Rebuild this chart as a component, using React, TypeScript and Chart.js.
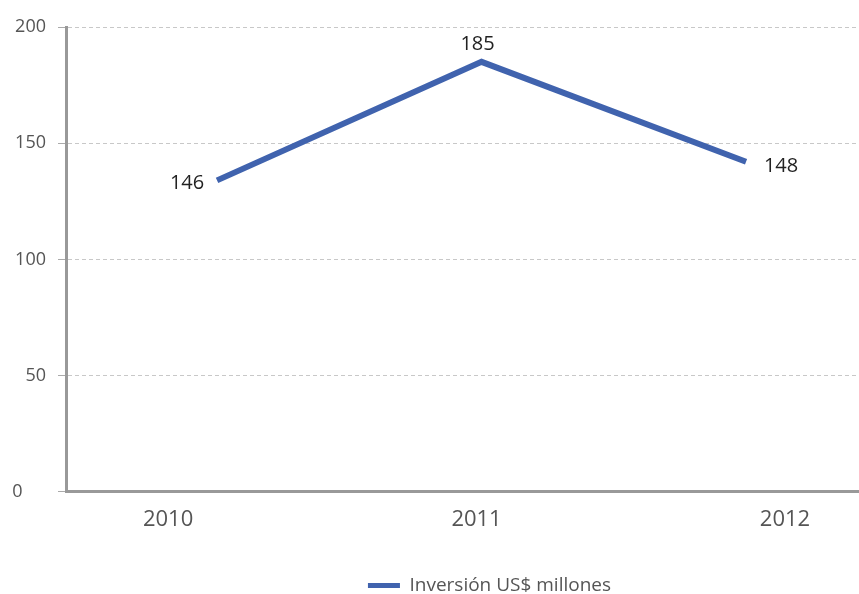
import React, { useEffect, useRef } from 'react';
import { Chart, registerables } from 'chart.js';

Chart.register(...registerables);

// ---- data ----
const categories = ['2010', '2011', '2012'];
const tickYears = [2010, 2011, 2012];
const plottedValues = [134, 185, 142]; // where the line is drawn in the reference
const valueLabels = ['146', '185', '148']; // printed value labels
const yTicks = [0, 50, 100, 150, 200];
const seriesName = 'Inversión US$ millones';

const FONT = '"Open Sans", "Noto Sans", sans-serif';
const BLUE = '#4063AE';

export default function App() {
  const ref = useRef<HTMLCanvasElement>(null);

  useEffect(() => {
    document.body.style.margin = '0';
    const canvas = ref.current;
    if (!canvas) return;

    const labelOffsets = [
      { dx: -30, dy: 3 },
      { dx: -4, dy: -18 },
      { dx: 35, dy: 5 },
    ];

    const valueLabelPlugin = {
      id: 'valueLabels',
      afterDatasetsDraw(chart: any) {
        const meta = chart.getDatasetMeta(0);
        const ctx = chart.ctx;
        ctx.save();
        ctx.font = `20px ${FONT}`;
        ctx.fillStyle = '#222';
        ctx.textAlign = 'center';
        ctx.textBaseline = 'middle';
        meta.data.forEach((pt: any, i: number) => {
          const o = labelOffsets[i];
          ctx.fillText(valueLabels[i], pt.x + o.dx, pt.y + o.dy);
        });
        ctx.restore();
      },
    };

    const legendShift = {
      id: 'legendShift',
      afterLayout(chart: any) {
        const lg = chart.legend;
        if (lg) {
          lg.left += 60;
          lg.right += 60;
          lg.top += 11;
          lg.bottom += 11;
        }
      },
    };

    const chart = new Chart(canvas, {
      type: 'line',
      data: {
        labels: categories,
        datasets: [
          {
            label: seriesName,
            data: plottedValues.map((v, i) => ({ x: i, y: v })),
            xAxisID: 'x2',
            borderColor: BLUE,
            backgroundColor: BLUE,
            borderWidth: 6,
            pointRadius: 0,
            tension: 0,
            borderCapStyle: 'butt',
            borderJoinStyle: 'miter',
          },
        ],
      },
      options: {
        responsive: false,
        animation: false,
        layout: { padding: { top: 27, left: 0, right: 0, bottom: 0 } },
        scales: {
          x: {
            type: 'linear',
            position: 'bottom',
            min: 2009.669,
            max: 2012.24,
            afterBuildTicks: (s: any) => {
              s.ticks = tickYears.map((v) => ({ value: v }));
            },
            ticks: {
              callback: (v: any) => String(v),
              font: { size: 22, family: FONT },
              color: '#555',
              padding: 15,
              autoSkip: false,
              maxRotation: 0,
            },
            grid: { display: false, drawTicks: false },
            border: { display: true, color: '#999', width: 3 },
            afterFit: (s: any) => {
              s.height = 73.2;
            },
          },
          x2: {
            type: 'linear',
            display: false,
            min: -0.571,
            max: 2.427,
          },
          y: {
            type: 'linear',
            position: 'left',
            min: 0,
            max: 200,
            afterBuildTicks: (s: any) => {
              s.ticks = yTicks.map((v) => ({ value: v }));
            },
            ticks: {
              font: { size: 18, family: FONT },
              color: '#555',
              padding: 12,
              callback: (v: any) => (v === 0 ? '0     ' : String(v)),
            },
            grid: {
              color: '#c8c8c8',
              lineWidth: 1,
              tickLength: 8,
              tickColor: '#aaa',
              drawTicks: true,
            },
            border: { display: true, color: '#999', width: 3, dash: [4, 3] },
            afterFit: (s: any) => {
              s.width = 66;
            },
          },
        },
        plugins: {
          tooltip: { enabled: false },
          legend: {
            position: 'bottom',
            labels: {
              font: { size: 19, family: FONT },
              color: '#555',
              boxWidth: 32,
              boxHeight: 5,
              padding: 0,
              generateLabels: (c: any) => {
                const items = Chart.defaults.plugins.legend.labels.generateLabels(c);
                return items.map((it: any) => ({ ...it, lineWidth: 0, fillStyle: BLUE, strokeStyle: BLUE }));
              },
            },
          },
        },
      },
      plugins: [valueLabelPlugin, legendShift],
    } as any);

    return () => chart.destroy();
  }, []);

  return (
    <canvas
      ref={ref}
      width={859}
      height={594}
      style={{ display: 'block', width: 859, height: 594 }}
    />
  );
}
